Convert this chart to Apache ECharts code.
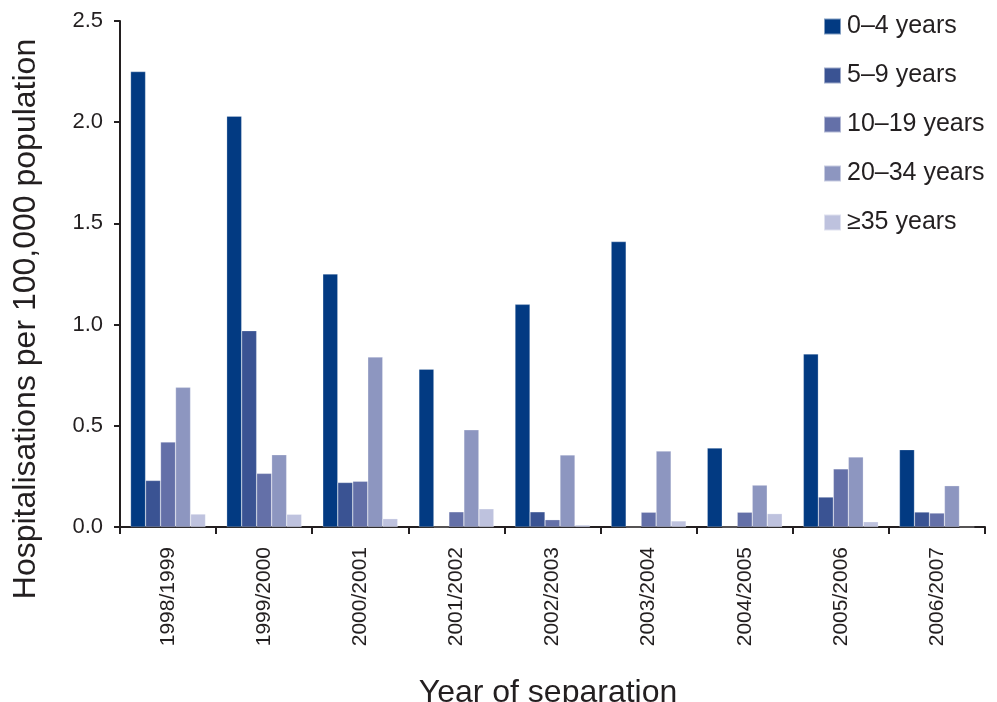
<!DOCTYPE html>
<html><head><meta charset="utf-8">
<script src="https://cdn.jsdelivr.net/npm/echarts@6/dist/echarts.min.js"></script>
<style>html,body{margin:0;padding:0;background:#fff}#c{width:997px;height:702px}</style>
</head><body><div id="c"></div>
<script>
const categories = ['1998/1999','1999/2000','2000/2001','2001/2002','2002/2003','2003/2004','2004/2005','2005/2006','2006/2007'];
const seriesNames = ['0–4 years','5–9 years','10–19 years','20–34 years','≥35 years'];
const age0to4   = [2.25, 2.03, 1.25, 0.78, 1.10, 1.41, 0.39, 0.855, 0.382];
const age5to9   = [0.23, 0.97, 0.22, 0,    0.075, 0,   0,    0.148, 0.074];
const age10to19 = [0.42, 0.265, 0.226, 0.075, 0.036, 0.073, 0.073, 0.287, 0.069];
const age20to34 = [0.69, 0.357, 0.84, 0.48, 0.356, 0.375, 0.207, 0.346, 0.204];
const age35plus = [0.064, 0.063, 0.041, 0.09, 0.01, 0.03, 0.066, 0.026, 0];
const yTicks = [0, 0.5, 1.0, 1.5, 2.0, 2.5];
const colors = ['#023a82','#3a5393','#6470a8','#8d96c0','#bec2de'];
const allData = [age0to4, age5to9, age10to19, age20to34, age35plus];

const chart = echarts.init(document.getElementById('c'));
const font = '"Liberation Sans", Arial, sans-serif';
chart.setOption({
  animation: false,
  color: colors,
  grid: {left: 120, right: 12, top: 21, bottom: 175},
  legend: {
    orient: 'vertical', left: 818, top: 9,
    itemWidth: 17, itemHeight: 16, itemGap: 24,
    icon: 'rect',
    textStyle: {fontFamily: font, fontSize: 25, lineHeight: 25, color: '#231f20', padding: [0,0,0,1]},
    data: seriesNames
  },
  xAxis: {
    type: 'category', data: categories,
    axisLine: {lineStyle: {color: '#231f20', width: 2}},
    axisTick: {show: true, length: 7, lineStyle: {color: '#231f20', width: 2}},
    axisLabel: {rotate: 90, fontFamily: font, fontSize: 21, color: '#231f20', margin: 20}
  },
  yAxis: {
    type: 'value', min: 0, max: 2.5, interval: 0.5,
    axisLine: {show: true, lineStyle: {color: '#231f20', width: 2}},
    axisTick: {show: true, length: 6, lineStyle: {color: '#231f20', width: 2}},
    splitLine: {show: false},
    axisLabel: {fontFamily: font, fontSize: 22, color: '#231f20', margin: 17,
      formatter: v => yTicks.includes(v) ? v.toFixed(1) : ''}
  },
  graphic: [
    {type: 'text', x: 26, y: 319, rotation: Math.PI/2,
     style: {text: 'Hospitalisations per 100,000 population', font: '32px ' + font, fill: '#231f20',
       textAlign: 'center', textVerticalAlign: 'middle'}},
    {type: 'text', x: 548, y: 693,
     style: {text: 'Year of separation', font: '32px ' + font, fill: '#231f20',
       textAlign: 'center', textVerticalAlign: 'middle'}}
  ],
  series: seriesNames.map((n, i) => ({
    name: n, type: 'bar', data: allData[i],
    barGap: '0%', barCategoryGap: '22%',
    itemStyle: {color: colors[i], borderColor: 'rgba(255,255,255,0.5)', borderWidth: 0.5}
  }))
});
</script></body></html>
